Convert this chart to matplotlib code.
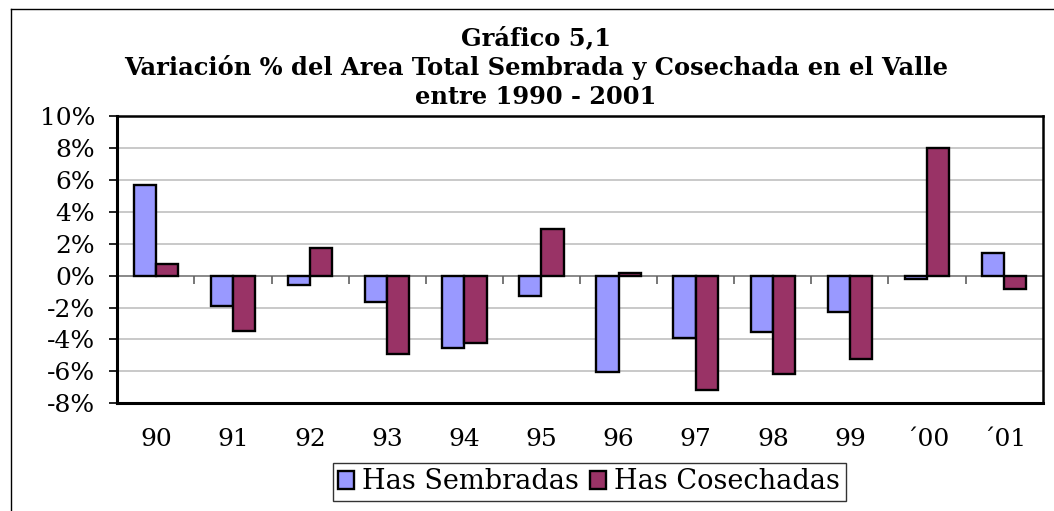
import matplotlib
matplotlib.use("Agg")
import matplotlib.pyplot as plt
from matplotlib.lines import Line2D
import numpy as np

categories = ["90", "91", "92", "93", "94", "95", "96", "97", "98", "99", "´00", "´01"]
sembradas = [5.68, -1.92, -0.56, -1.63, -4.51, -1.28, -6.06, -3.93, -3.51, -2.26, -0.21, 1.40]
cosechadas = [0.75, -3.45, 1.75, -4.89, -4.22, 2.92, 0.16, -7.14, -6.18, -5.24, 8.02, -0.84]
yticks = [-8, -6, -4, -2, 0, 2, 4, 6, 8, 10]
title_lines = ["Gráfico 5,1",
               "Variación % del Area Total Sembrada y Cosechada en el Valle",
               "entre 1990 - 2001"]

plt.rcParams['font.family'] = ['DejaVu Serif']

fig = plt.figure(figsize=(10.54, 5.11), dpi=100)
ax = fig.add_axes([0.1113, 0.2108, 0.9893 - 0.1113, 0.773 - 0.2108])

x = np.arange(len(categories))
w = 0.288
ax.bar(x - w / 2, sembradas, w, color="#9999FF", edgecolor="black", linewidth=1.7,
       label="Has Sembradas", zorder=3)
ax.bar(x + w / 2, cosechadas, w, color="#993366", edgecolor="black", linewidth=1.7,
       label="Has Cosechadas", zorder=3)

ax.set_xlim(-0.5, len(categories) - 0.5)
ax.set_ylim(-8, 10)
ax.set_yticks(yticks)
ax.set_yticklabels([f"{v}%" for v in yticks])
ax.yaxis.grid(True, color="#c0c0c0", linewidth=1.2, zorder=0)
ax.set_axisbelow(True)

# zero line with category-boundary ticks
ax.axhline(0, color="#808080", linewidth=1.2, zorder=2)
bounds = x[:-1] + 0.5
ax.plot(bounds, np.zeros_like(bounds, dtype=float), linestyle="none", marker=3,
        markersize=6, markeredgewidth=1.2, color="#606060", zorder=2)

ax.set_xticks(x)
ax.set_xticklabels(categories)
ax.tick_params(axis="x", length=0, pad=18, labelsize=18)
ax.tick_params(axis="y", length=6, width=1.2, pad=10, labelsize=18, direction="out")

for s in ["left", "bottom"]:
    ax.spines[s].set_linewidth(2.2)
for s in ["top", "right"]:
    ax.spines[s].set_linewidth(1.8)
for s in ax.spines.values():
    s.set_color("black")

title_y = [1 - 38 / 511, 1 - 68 / 511, 1 - 97 / 511]
for t, yy in zip(title_lines, title_y):
    fig.text(0.5085, yy, t, ha="center", va="center", fontsize=17.4, fontweight="bold")

leg = fig.legend(loc="center", bbox_to_anchor=(0.559, 0.0568), ncol=2, fontsize=19.5,
                 frameon=True, fancybox=False, edgecolor="black", handlelength=0.6,
                 handleheight=0.6, handletextpad=0.3, columnspacing=0.4,
                 borderpad=0.2, borderaxespad=0)
leg.get_frame().set_linewidth(1.0)

# figure border lines (top and left)
fig.add_artist(Line2D([11 / 1054, 11 / 1054], [0, 1 - 9 / 511], color="black",
                      linewidth=1.0, transform=fig.transFigure))
fig.add_artist(Line2D([11 / 1054, 1], [1 - 9 / 511, 1 - 9 / 511], color="black",
                      linewidth=1.0, transform=fig.transFigure))

fig.savefig("out.png", dpi=100)
